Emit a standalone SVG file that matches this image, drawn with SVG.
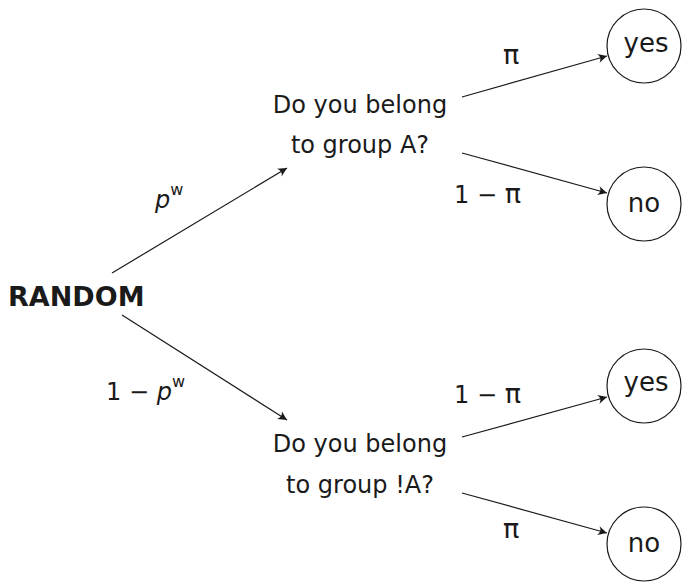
<svg xmlns="http://www.w3.org/2000/svg" width="682" height="582" viewBox="0 0 682 582">
<style>
text{font-family:"DejaVu Sans","Liberation Sans",sans-serif;fill:#1a1a1a}
.q{font-size:24px;text-anchor:middle}
.c{font-size:26px;text-anchor:middle}
.m{font-size:24px}
.pi{font-size:27px}
.sup{font-size:16px}
.it{font-style:italic}
circle{fill:#fff;stroke:#1a1a1a;stroke-width:1.2}
line{stroke:#1a1a1a;stroke-width:1.2;marker-end:url(#ah)}
</style>
<defs>
<marker id="ah" markerUnits="userSpaceOnUse" markerWidth="14" markerHeight="12" refX="11" refY="6" orient="auto">
<path d="M11,6 L2,1.5 Q6,6 2,10.5 Z" fill="#1a1a1a"/>
</marker>
</defs>
<g id="random"><text x="8" y="306" style="font-family:'DejaVu Sans',sans-serif;font-weight:bold;font-size:27px">RANDOM</text></g>
<g id="qA"><text class="q" x="360" y="113">Do you belong</text><text class="q" x="360" y="153">to group A?</text></g>
<g id="qNotA"><text class="q" x="360" y="452">Do you belong</text><text class="q" x="360" y="493">to group !A?</text></g>
<g id="yes1"><circle cx="644" cy="46" r="37"/><text class="c" x="646" y="52">yes</text></g>
<g id="no1"><circle cx="644" cy="204" r="37"/><text class="c" x="644" y="212">no</text></g>
<g id="yes2"><circle cx="644" cy="386" r="37"/><text class="c" x="646" y="391">yes</text></g>
<g id="no2"><circle cx="644" cy="544" r="37"/><text class="c" x="644" y="552">no</text></g>
<g id="connectors">
<line x1="112" y1="273" x2="287" y2="168"/>
<line x1="122" y1="315" x2="287" y2="420"/>
<line x1="462" y1="97" x2="607" y2="56"/>
<line x1="462" y1="153" x2="607" y2="193"/>
<line x1="462" y1="437" x2="607" y2="397"/>
<line x1="462" y1="493" x2="607" y2="533"/>
</g>
<g id="labels">
<text class="m" x="155" y="208"><tspan class="it">p</tspan><tspan class="sup" dy="-13">w</tspan></text>
<text class="m" x="106" y="400">1 − <tspan class="it">p</tspan><tspan class="sup" dy="-13">w</tspan></text>
<text class="m pi" x="503" y="64">π</text>
<text class="m" x="454" y="203">1 − <tspan class="pi">π</tspan></text>
<text class="m" x="454" y="403">1 − <tspan class="pi">π</tspan></text>
<text class="m pi" x="503" y="538">π</text>
</g>
</svg>
